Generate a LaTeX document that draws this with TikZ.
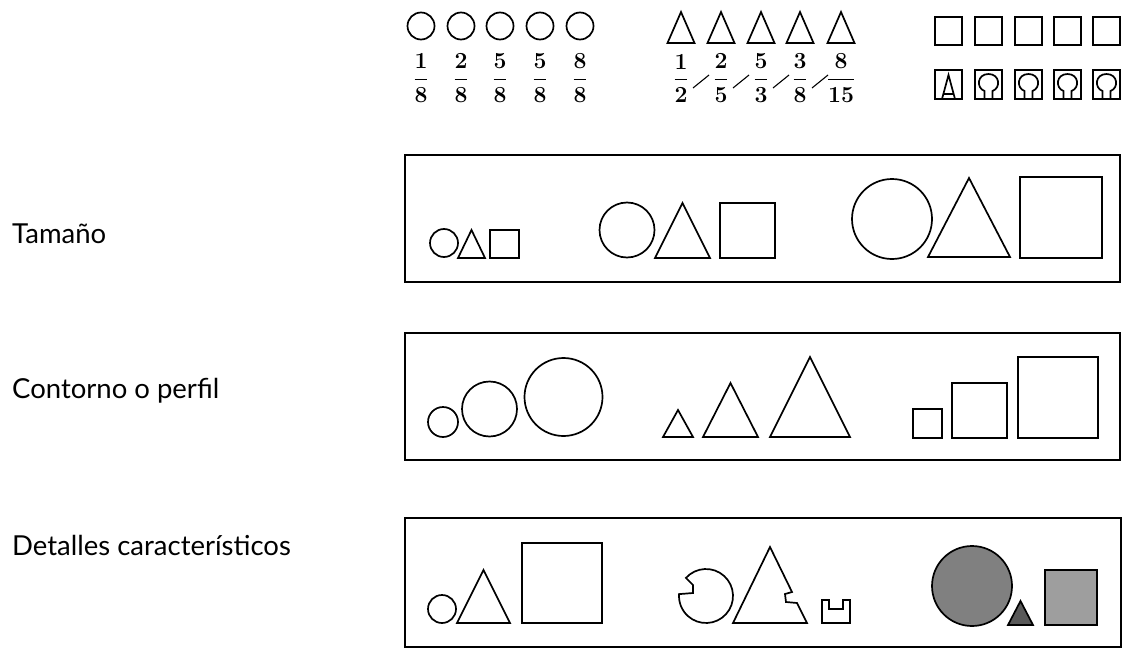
\documentclass[tikz,border=0pt]{standalone}
\usepackage{fontspec}
\usepackage{amsmath}
\setmainfont{Lato}
\newfontfamily\fracfont{Latin Modern Roman}
\tikzset{
  shp/.style={line width=1.7pt, line join=miter},
  frame/.style={line width=2pt},
  lbl/.style={anchor=base west, inner sep=0pt, font=\fontsize{27.5}{27.5}\selectfont},
  fr/.style={inner sep=0pt, font=\fontsize{23}{23}\selectfont},
}
\newcommand{\myfr}[2]{$\displaystyle\frac{\text{\fracfont\bfseries #1}}{\text{\fracfont\bfseries #2}}$}
\newcommand{\omsq}[1]{%
  \draw[shp] (#1,70) rectangle ++(27,29);
  \draw[shp] (#1+9.5,99) -- (#1+9.5,91) .. controls (#1+1,88) and (#1+2,74) .. (#1+13.5,74) .. controls (#1+25,74) and (#1+26,88) .. (#1+17.5,91) -- (#1+17.5,99);
}
\begin{document}
\begin{tikzpicture}[x=1pt,y=-1pt]
\useasboundingbox (0,0) rectangle (1126,650);
% labels
\node[lbl] (t1) at (12,243) {Tamaño};
\node[lbl] (t2) at (12,398) {Contorno o perfil};
\node[lbl] (t3) at (12,555) {Detalles característicos};
% top row circles
\foreach \x/\n/\d [count=\i] in {421/1/8,461/2/8,500/5/8,540/5/8,580/8/8}{
  \draw[shp] (\x,26) circle[radius=13.5];
  \node[fr] (fc\i) at (\x,78.5) {\myfr{\n}{\d}};
}
% top row triangles
\foreach \x/\n/\d [count=\i] in {681/1/2,721/2/5,761/5/3,800/3/8,841/8/15}{
  \draw[shp] (\x-13.5,43) -- (\x,12) -- (\x+13.5,43) -- cycle;
  \node[fr] (ft\i) at (\x,78.5) {\myfr{\n}{\d}};
}
\foreach \x in {701,741,781,820}{
  \draw[line width=1.1pt] (\x-8,88) -- (\x+8,75);
}
% top row squares
\foreach \x in {935,975,1015,1054,1093}{
  \draw[shp] (\x,17) rectangle ++(27,28);
}
\draw[shp] (935,70) rectangle ++(27,29);
\draw[shp] (942,99) -- (948.5,75) -- (955,99);
\draw[shp] (944,94) -- (953,94);
\omsq{975}
\omsq{1015}
\omsq{1054}
\omsq{1093}
% frames
\draw[frame] (405,155) rectangle (1120,282);
\draw[frame] (405,333) rectangle (1120,460);
\draw[frame] (405,518) rectangle (1121,647);
% box 1 : size
\draw[shp] (444,243) circle[radius=14];
\draw[shp] (458,258) -- (471.5,230) -- (485,258) -- cycle;
\draw[shp] (490,230) rectangle (519,258);
\draw[shp] (627,230) circle[radius=27.5];
\draw[shp] (655,258) -- (682.5,203) -- (710,258) -- cycle;
\draw[shp] (720,203) rectangle (775,258);
\draw[shp] (892,219) circle[radius=40];
\draw[shp] (928,257) -- (969,178) -- (1010,257) -- cycle;
\draw[shp] (1020,177) rectangle (1102,258);
% box 2 : contour
\draw[shp] (443,422) circle[radius=15];
\draw[shp] (489.5,409) circle[radius=27.5];
\draw[shp] (563.5,397) circle[radius=39];
\draw[shp] (663,437) -- (678,410) -- (693,437) -- cycle;
\draw[shp] (703,437) -- (730.5,383) -- (758,437) -- cycle;
\draw[shp] (770,437) -- (810,357) -- (850,437) -- cycle;
\draw[shp] (913,409) rectangle (942,438);
\draw[shp] (952,383) rectangle (1007,438);
\draw[shp] (1018,357) rectangle (1098,438);
% box 3 : details
\draw[shp] (442,609) circle[radius=14];
\draw[shp] (457,623) -- (483.5,570) -- (510,623) -- cycle;
\draw[shp] (522,543) rectangle (602,623);
\draw[shp] (706,596) ++(222:27) arc[start angle=222, end angle=544, radius=27] -- (693,593) -- (693,585) -- cycle;
\draw[shp] (733,623) -- (770,547) -- (792,592) -- (785,594) -- (786,602) -- (797,603) -- (807,623) -- cycle;
\draw[shp] (822,600) -- (829,600) -- (829,609) -- (843,609) -- (843,600) -- (850,600) -- (850,623) -- (822,623) -- cycle;
\draw[shp, fill=black!50] (972,586) circle[radius=40];
\draw[shp, fill=black!65] (1008,625) -- (1020.5,601) -- (1033,625) -- cycle;
\draw[shp, fill=black!38] (1045,570) rectangle (1097,625);
\end{tikzpicture}
\end{document}
